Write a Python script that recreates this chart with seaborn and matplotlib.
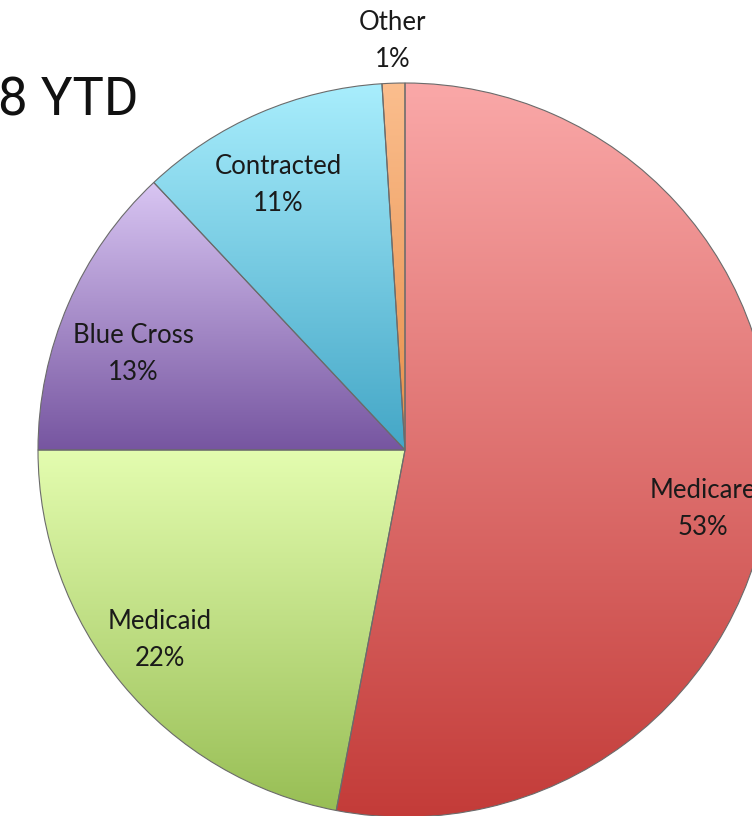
import numpy as np
import matplotlib
matplotlib.use("Agg")
import matplotlib.pyplot as plt
import seaborn as sns
from matplotlib.colors import to_rgb

# ---- data ----
categories = ["Medicare", "Medicaid", "Blue Cross", "Contracted", "Other"]
shares = [53, 22, 13, 11, 1]
pct_labels = ["53%", "22%", "13%", "11%", "1%"]
title_text = "8 YTD"

# ---- style ----
top_colors = ["#FAA8A8", "#E4FDB0", "#D9C6F3", "#A9EEFD", "#FBBE8E"]
bottom_colors = ["#C33B38", "#98BE55", "#7655A0", "#43A6C6", "#E68E48"]
label_pos = [(703, 509), (160, 640), (133, 354), (278, 185), (393, 41)]

sns.set_theme(style="white")
plt.rcParams["font.family"] = ["Lato", "DejaVu Sans"]

W, H = 752, 816
fig = plt.figure(figsize=(W / 100, H / 100), dpi=100)
ax = fig.add_axes([0, 0, 1, 1])
ax.set_axis_off()

cx, cy, R = 405, H - 450, 367
wedges, _ = ax.pie(shares, startangle=90, counterclock=False,
                   center=(cx, cy), radius=R,
                   wedgeprops=dict(facecolor="none", edgecolor="#6b6b6b",
                                   linewidth=0.8))

for w, c0, c1 in zip(wedges, top_colors, bottom_colors):
    verts = w.get_path().vertices
    ymin, ymax = verts[:, 1].min(), verts[:, 1].max()
    xmin, xmax = verts[:, 0].min(), verts[:, 0].max()
    t = np.linspace(0, 1, 256)[:, None]
    a, b = np.array(to_rgb(c0)), np.array(to_rgb(c1))
    grad = (a[None, :] * (1 - t) + b[None, :] * t)[:, None, :]
    im = ax.imshow(grad, extent=(xmin - 1, xmax + 1, ymin - 1, ymax + 1),
                   origin="upper", aspect="auto", interpolation="bilinear",
                   zorder=0.5)
    im.set_clip_path(w)
    w.set_zorder(1)

for cat, pct, (x, y) in zip(categories, pct_labels, label_pos):
    ax.text(x, H - y, f"{cat}\n{pct}", ha="center", va="center",
            fontsize=18.5, color="#1a1a1a", linespacing=1.6, zorder=3)

ax.text(-2, H - 115, title_text, ha="left", va="baseline",
        fontsize=38, color="#111111",
        family=["Roboto", "DejaVu Sans"], zorder=3)

ax.set_xlim(0, W)
ax.set_ylim(0, H)
ax.set_aspect("auto")
fig.savefig("out.png", dpi=100, facecolor="white")
